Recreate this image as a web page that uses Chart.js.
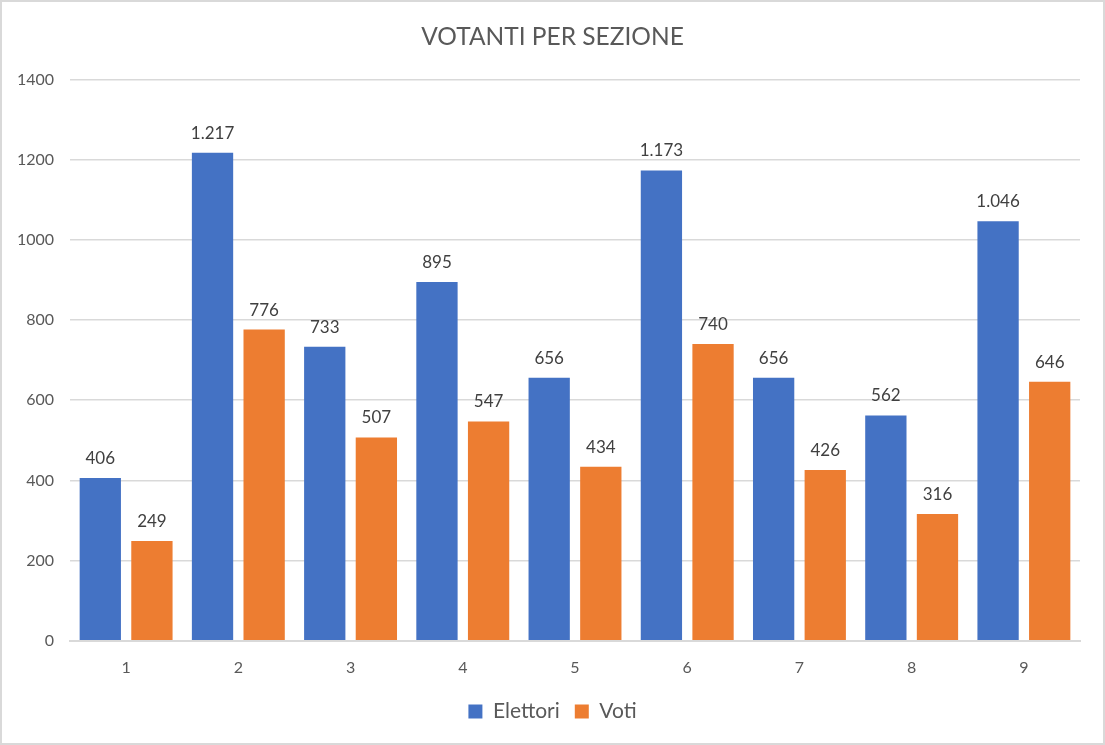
<!DOCTYPE html>
<html>
<head>
<meta charset="utf-8">
<script src="https://cdn.jsdelivr.net/npm/chart.js@4"></script>
<style>
html,body{margin:0;padding:0;background:#fff;}
#wrap{width:1105px;height:745px;position:relative;}
</style>
</head>
<body>
<div id="wrap"><canvas id="c"></canvas></div>
<script>
const categories = ['1','2','3','4','5','6','7','8','9'];
const elettori = [406,1217,733,895,656,1173,656,562,1046];
const voti = [249,776,507,547,434,740,426,316,646];
const titleText = 'VOTANTI PER SEZIONE';

function fmtIt(v){
  return String(v).replace(/\B(?=(\d{3})+(?!\d))/g,'.');
}

const FONT = 'Lato, "Liberation Sans", sans-serif';
const TXT = '#595959';

const borderPlugin = {
  id:'border',
  beforeDraw(chart){
    const ctx = chart.ctx;
    ctx.save();
    ctx.fillStyle='#fff';
    ctx.fillRect(0,0,chart.width,chart.height);
    ctx.strokeStyle='#d9d9d9';
    ctx.lineWidth=2;
    ctx.strokeRect(1,1,chart.width-2,chart.height-2);
    ctx.restore();
  }
};

const labelPlugin = {
  id:'dlabels',
  afterDatasetsDraw(chart){
    const ctx = chart.ctx;
    ctx.save();
    ctx.font = '17px ' + FONT;
    ctx.fillStyle = '#404040';
    ctx.textAlign='center';
    ctx.textBaseline='bottom';
    chart.data.datasets.forEach((ds,i)=>{
      const meta = chart.getDatasetMeta(i);
      meta.data.forEach((bar,j)=>{
        ctx.fillText(fmtIt(ds.data[j]), bar.x, bar.y - 11);
      });
    });
    ctx.restore();
  }
};

new Chart(document.getElementById('c'),{
  type:'bar',
  data:{
    labels:categories,
    datasets:[
      {label:'Elettori',data:elettori,backgroundColor:'#4472C4',categoryPercentage:0.92,barPercentage:0.8},
      {label:'Voti',data:voti,backgroundColor:'#ED7D31',categoryPercentage:0.92,barPercentage:0.8}
    ]
  },
  options:{
    responsive:true,
    maintainAspectRatio:false,
    animation:false,
    devicePixelRatio:1,
    layout:{padding:{left:0,right:0,top:14,bottom:13}},
    plugins:{
      title:{display:true,text:titleText,color:TXT,font:{family:FONT,size:24.5,weight:'normal'},padding:{top:8,bottom:28}},
      legend:{position:'bottom',labels:{color:TXT,font:{family:FONT,size:21},boxWidth:14,boxHeight:14,padding:15}},
      tooltip:{enabled:false}
    },
    scales:{
      x:{
        grid:{display:false},
        border:{color:'#d9d9d9',width:2},
        ticks:{color:TXT,font:{family:FONT,size:16},padding:9}
      },
      y:{
        min:0,max:1400,
        afterFit(s){s.width=70;},
        grid:{color:'#d9d9d9',lineWidth:1.5,drawTicks:false},
        border:{display:false},
        ticks:{stepSize:200,color:TXT,font:{family:FONT,size:16},padding:16,callback:v=>String(v)}
      },
      yr:{
        position:'right',
        min:0,max:1400,
        afterFit(s){s.width=25;},
        grid:{display:false},
        border:{display:false},
        ticks:{display:false}
      }
    }
  },
  plugins:[borderPlugin,labelPlugin]
});
</script>
</body>
</html>
